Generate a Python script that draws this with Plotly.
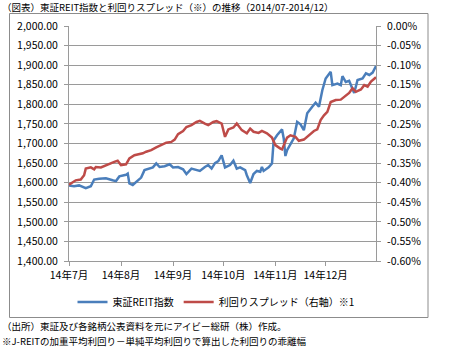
import plotly.graph_objects as go

# ---------------- data ----------------
reit_dates = ["2014-07-01","2014-07-04","2014-07-07","2014-07-09","2014-07-11","2014-07-14","2014-07-16","2014-07-19",
    "2014-07-23","2014-07-27","2014-07-29","2014-07-31","2014-08-04","2014-08-05","2014-08-06","2014-08-08","2014-08-11",
    "2014-08-13","2014-08-15","2014-08-18","2014-08-20","2014-08-22","2014-08-24","2014-08-27","2014-08-30","2014-09-01",
    "2014-09-04","2014-09-07","2014-09-09","2014-09-12","2014-09-15","2014-09-17","2014-09-20","2014-09-22","2014-09-24",
    "2014-09-26","2014-09-28","2014-09-30","2014-10-02","2014-10-05","2014-10-07","2014-10-09","2014-10-11","2014-10-14",
    "2014-10-15","2014-10-17","2014-10-19","2014-10-21","2014-10-23","2014-10-24","2014-10-25","2014-10-28","2014-10-30",
    "2014-10-31","2014-11-02","2014-11-05","2014-11-06","2014-11-07","2014-11-08","2014-11-10","2014-11-12","2014-11-14",
    "2014-11-16","2014-11-18","2014-11-20","2014-11-23","2014-11-25","2014-11-27","2014-11-29","2014-12-01","2014-12-04",
    "2014-12-05","2014-12-08","2014-12-10","2014-12-11","2014-12-13","2014-12-15","2014-12-18","2014-12-20","2014-12-23",
    "2014-12-25","2014-12-27","2014-12-29","2014-12-31"]
reit_index = [1593,1591,1593,1589,1586,1591,1608,1610,
    1611,1606,1604,1616,1620,1623,1598,1594,1604,
    1613,1632,1636,1639,1649,1640,1642,1647,1639,
    1640,1634,1622,1636,1632,1630,1640,1645,1636,
    1650,1655,1670,1639,1645,1656,1636,1639,1632,
    1619,1599,1622,1630,1628,1640,1630,1639,1649,
    1708,1721,1736,1713,1668,1683,1698,1713,1755,
    1749,1734,1777,1794,1804,1794,1836,1866,1883,
    1849,1853,1849,1872,1857,1860,1829,1862,1866,
    1879,1875,1881,1898]

spread_dates = ["2014-07-01","2014-07-03","2014-07-05","2014-07-08","2014-07-10","2014-07-11","2014-07-14","2014-07-16",
    "2014-07-17","2014-07-20","2014-07-23","2014-07-25","2014-07-28","2014-07-30","2014-08-01","2014-08-04","2014-08-06",
    "2014-08-09","2014-08-12","2014-08-14","2014-08-16","2014-08-19","2014-08-22","2014-08-25","2014-08-28","2014-08-31",
    "2014-09-02","2014-09-04","2014-09-07","2014-09-09","2014-09-12","2014-09-15","2014-09-17","2014-09-20","2014-09-22",
    "2014-09-25","2014-09-27","2014-09-30","2014-10-02","2014-10-04","2014-10-07","2014-10-09","2014-10-12","2014-10-15",
    "2014-10-17","2014-10-19","2014-10-22","2014-10-24","2014-10-27","2014-10-30","2014-11-01","2014-11-04","2014-11-05",
    "2014-11-08","2014-11-10","2014-11-13","2014-11-15","2014-11-18","2014-11-21","2014-11-24","2014-11-26","2014-11-28",
    "2014-11-30","2014-12-02","2014-12-04","2014-12-07","2014-12-10","2014-12-12","2014-12-15","2014-12-17","2014-12-19",
    "2014-12-22","2014-12-24","2014-12-26","2014-12-28","2014-12-31"]
yield_spread = [-0.405,-0.400,-0.394,-0.392,-0.381,-0.364,-0.361,-0.366,
    -0.360,-0.361,-0.355,-0.351,-0.347,-0.344,-0.355,-0.353,-0.338,
    -0.330,-0.328,-0.325,-0.321,-0.317,-0.310,-0.304,-0.298,-0.296,
    -0.290,-0.276,-0.268,-0.258,-0.253,-0.245,-0.242,-0.249,-0.253,
    -0.245,-0.243,-0.249,-0.283,-0.264,-0.259,-0.249,-0.266,-0.274,
    -0.262,-0.270,-0.273,-0.268,-0.274,-0.285,-0.304,-0.313,-0.315,
    -0.285,-0.279,-0.283,-0.293,-0.290,-0.279,-0.268,-0.264,-0.240,
    -0.228,-0.219,-0.194,-0.189,-0.188,-0.181,-0.171,-0.159,-0.168,
    -0.162,-0.151,-0.155,-0.142,-0.131]

month_ticks = ["2014-07-01","2014-08-01","2014-09-01","2014-10-01","2014-11-01","2014-12-01"]
month_labels = ["14年7月","14年8月","14年9月","14年10月","14年11月","14年12月"]

left_ticks = [1400 + 50 * i for i in range(13)]
left_labels = [f"{v:,.2f}" for v in left_ticks]
right_ticks = [-0.60 + 0.05 * i for i in range(13)]
right_labels = [f"{v:.2f}%".replace("-0.00", "0.00") for v in right_ticks]

series_names = ["東証REIT指数", "利回りスプレッド（右軸）※1"]
title_text = "（図表）東証REIT指数と利回りスプレッド（※）の推移（2014/07-2014/12）"
note1 = "（出所）東証及び各銘柄公表資料を元にアイビー総研（株）作成。"
note2 = "※J-REITの加重平均利回り－単純平均利回りで算出した利回りの乖離幅"

# ---------------- layout helpers ----------------
W, H = 450, 348
ML, MR, MT, MB = 69, 74, 26, 87
PW, PH = W - ML - MR, H - MT - MB
def px(x):
    return (x - ML) / PW
def py(y):
    return (H - MB - y) / PH

FONT = "Noto Sans CJK JP"
GRID = "#9a9a9a"

fig = go.Figure()
fig.add_trace(go.Scatter(x=reit_dates, y=reit_index, mode="lines", name=series_names[0],
                         line=dict(color="#4A7EBB", width=2.5), yaxis="y"))
fig.add_trace(go.Scatter(x=spread_dates, y=yield_spread, mode="lines", name=series_names[1],
                         line=dict(color="#BE4B48", width=2.5), yaxis="y2"))

fig.update_layout(
    width=W, height=H,
    margin=dict(l=ML, r=MR, t=MT, b=MB, pad=0),
    paper_bgcolor="white", plot_bgcolor="white",
    font=dict(family=FONT, size=10, color="#000"),
    showlegend=True,
    legend=dict(orientation="h", x=px(216), y=py(302), xanchor="center", yanchor="middle",
                font=dict(size=10), itemwidth=30, bgcolor="rgba(0,0,0,0)"),
    xaxis=dict(type="date", range=["2014-07-01", "2014-12-31"], tickvals=month_ticks, ticktext=month_labels,
               showgrid=False, showline=True, linecolor=GRID, linewidth=1, ticks="outside", ticklen=4,
               tickcolor=GRID, tickfont=dict(size=10.5), zeroline=False),
    yaxis=dict(range=[1400, 2000], tickvals=left_ticks, ticktext=left_labels, showgrid=True, gridcolor=GRID,
               gridwidth=1, showline=True, linecolor=GRID, ticks="outside", ticklen=4, tickcolor=GRID,
               zeroline=False, tickfont=dict(size=10.5), ticklabelstandoff=4),
    yaxis2=dict(range=[-0.6, 0], tickvals=right_ticks, ticktext=right_labels, overlaying="y", side="right",
                showgrid=False, showline=True, linecolor=GRID, ticks="outside", ticklen=4, tickcolor=GRID,
                zeroline=False, tickfont=dict(size=10.5), ticklabelstandoff=4),
    shapes=[dict(type="rect", xref="paper", yref="paper", x0=px(9.5), x1=px(428), y0=py(317.5), y1=py(13.5),
                 line=dict(color="#8c8c8c", width=1), fillcolor="rgba(0,0,0,0)", layer="below")],
    annotations=[
        dict(text=title_text, xref="paper", yref="paper", x=px(0), y=py(7), xanchor="left", yanchor="middle",
             showarrow=False, font=dict(size=9.5)),
        dict(text=note1, xref="paper", yref="paper", x=px(0), y=py(326), xanchor="left", yanchor="middle",
             showarrow=False, font=dict(size=9.5)),
        dict(text=note2, xref="paper", yref="paper", x=px(0), y=py(341), xanchor="left", yanchor="middle",
             showarrow=False, font=dict(size=9.5)),
    ],
)

fig.write_html("out.html")
